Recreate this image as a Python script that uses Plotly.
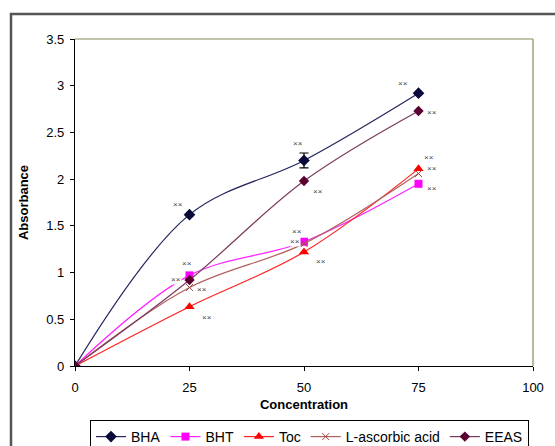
import plotly.graph_objects as go

concentration = [0, 25, 50, 75]
bha = [0, 1.62, 2.20, 2.92]
bha_err = [0, 0, 0.08, 0]
bht = [0, 0.97, 1.33, 1.95]
toc = [0, 0.635, 1.22, 2.11]
l_ascorbic = [0, 0.84, 1.31, 2.06]
eeas = [0, 0.92, 1.98, 2.73]

sig_label = "××"
sig_x = [22.4, 48.7, 71.6, 77.9, 53.1, 77.3, 77.9, 77.9, 24.4, 22.0, 27.7, 28.9, 48.5, 48.0, 53.7]
sig_y = [1.73, 2.38, 3.02, 2.71, 1.87, 2.23, 2.11, 1.90, 1.10, 0.93, 0.82, 0.52, 1.44, 1.33, 1.12]

FONT = "Liberation Sans, Arial, sans-serif"

fig = go.Figure()

def add(name, y, line_color, marker_color, symbol, size, err=None):
    kw = {}
    if err is not None:
        kw["error_y"] = dict(type="data", array=err, visible=True, color="black",
                             thickness=1.2, width=4.5)
    fig.add_trace(go.Scatter(
        x=concentration, y=y, name=name, mode="lines+markers",
        line=dict(color=line_color, width=1.2, shape="spline", smoothing=1),
        marker=dict(color=marker_color, symbol=symbol, size=size,
                    line=dict(width=0)),
        **kw))

add("BHA", bha, "#26265E", "#0A0A3A", "diamond", 9, bha_err)
add("BHT", bht, "#FF22FF", "#FF00FF", "square", 8)
add("Toc", toc, "#FF2020", "#FF0000", "triangle-up", 9)
add("L-ascorbic acid", l_ascorbic, "#B0605C", "#A04848", "x-thin-open", 7)
add("EEAS", eeas, "#7A3A5E", "#5A0030", "diamond", 8)

for sx, sy in zip(sig_x, sig_y):
    fig.add_annotation(x=sx, y=sy, text=sig_label, showarrow=False,
                       font=dict(family=FONT, size=8, color="#444444"),
                       bgcolor="white", borderpad=0)

# outer chart frame
fig.add_shape(type="rect", xref="paper", yref="paper",
              x0=(11 - 75) / 458, x1=(600 - 75) / 458,
              y0=(366 - 500) / 327, y1=(366 - 14) / 327,
              line=dict(color="#555555", width=2.5), layer="below")
# top and right plot-area border
fig.add_shape(type="line", xref="paper", yref="paper", x0=0, x1=1, y0=1, y1=1,
              line=dict(color="#8A8A5C", width=1.2))
fig.add_shape(type="line", xref="paper", yref="paper", x0=1, x1=1, y0=0, y1=1,
              line=dict(color="#8A8A5C", width=1.2))

fig.update_layout(
    width=555, height=446,
    margin=dict(l=75, r=22, t=39, b=80, autoexpand=False),
    paper_bgcolor="white", plot_bgcolor="white",
    font=dict(family=FONT, size=12, color="black"),
    showlegend=True,
    legend=dict(orientation="h", x=(90 - 75) / 458, y=(366 - 420) / 327,
                xanchor="left", yanchor="top",
                bgcolor="white", bordercolor="black", borderwidth=1,
                font=dict(family=FONT, size=14), itemwidth=30,
                tracegroupgap=0),
)
fig.update_xaxes(range=[0, 100], tickvals=[0, 25, 50, 75, 100],
                 showgrid=False, zeroline=False, showline=True,
                 linecolor="black", linewidth=1.2, ticks="outside",
                 ticklen=4, tickcolor="black", ticklabelstandoff=5,
                 tickfont=dict(size=13),
                 title=dict(text="<b>Concentration</b>", font=dict(size=13), standoff=6))
fig.update_yaxes(range=[0, 3.5], tickvals=[0, 0.5, 1, 1.5, 2, 2.5, 3, 3.5],
                 ticktext=["0", "0.5", "1", "1.5", "2", "2.5", "3", "3.5"],
                 showgrid=False, zeroline=False, showline=True,
                 linecolor="black", linewidth=1.2, ticks="outside",
                 ticklen=4, tickcolor="black", ticklabelstandoff=3,
                 tickfont=dict(size=13),
                 title=dict(text="<b>Absorbance</b>", font=dict(size=13), standoff=14))

fig.write_html("out.html")
